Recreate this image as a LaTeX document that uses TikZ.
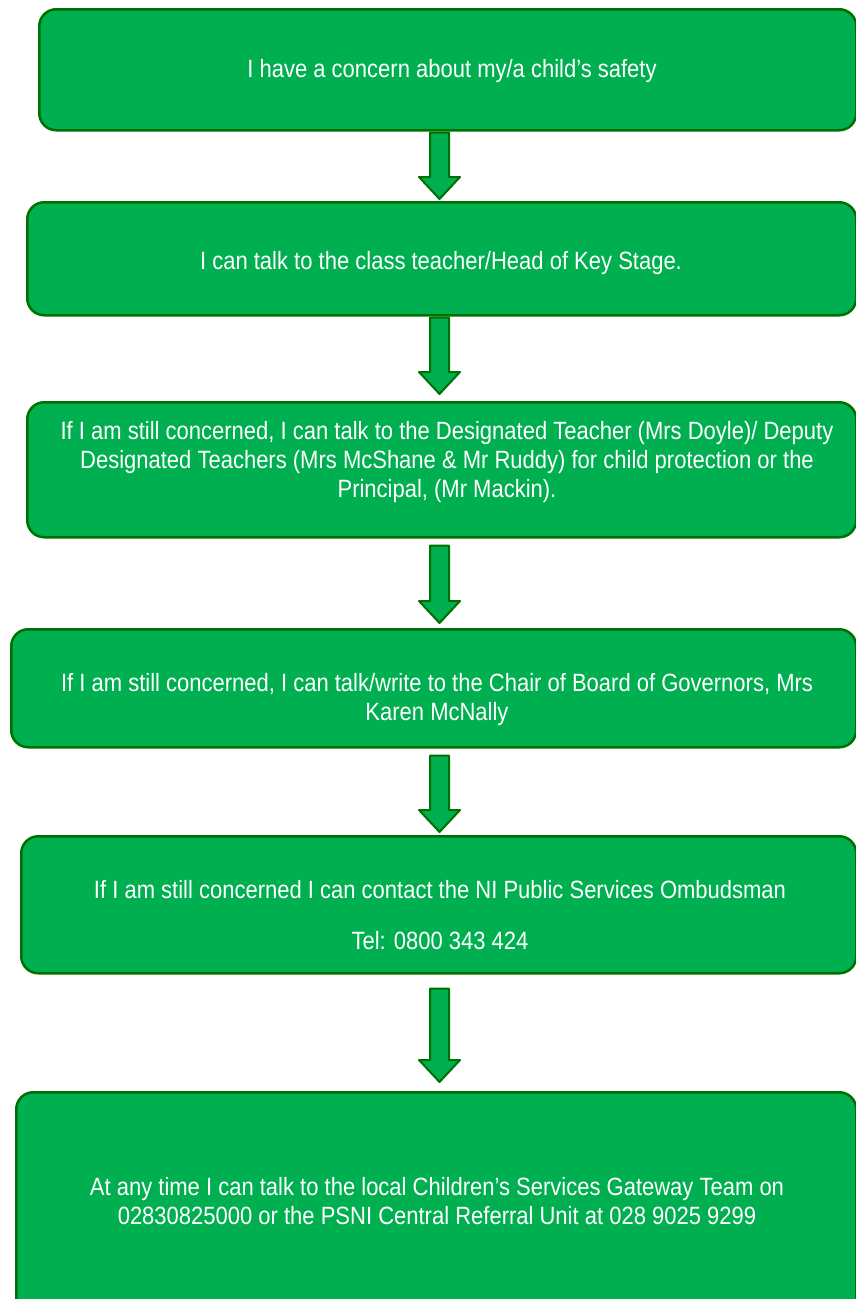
\documentclass[tikz,border=0pt]{standalone}
\usepackage{fontspec}
\setmainfont{Liberation Sans}[FakeStretch=0.88]
\usetikzlibrary{calc}
\definecolor{boxgreen}{RGB}{0,176,80}
\definecolor{edgegreen}{RGB}{0,112,0}
\begin{document}
\begin{tikzpicture}[x=1pt,y=-1pt,line join=round,
    stepbox/.style={draw=edgegreen,fill=boxgreen,line width=2.5pt,rounded corners=17pt,
      rectangle,anchor=north west,inner sep=0pt},
    steptext/.style={text=white,align=center,inner sep=0pt,
      font=\fontsize{25}{29}\selectfont},
    blockarrow/.style={draw=edgegreen,fill=boxgreen,line width=2pt}]
  \useasboundingbox[fill=white] (0,0) rectangle (856,1299);
  % boxes
  \node[stepbox,minimum width=817pt,minimum height=121pt] (b1) at (38,8) {};
  \node[stepbox,minimum width=829pt,minimum height=113pt] (b2) at (26,201) {};
  \node[stepbox,minimum width=829pt,minimum height=135pt] (b3) at (26,401) {};
  \node[stepbox,minimum width=845pt,minimum height=118pt] (b4) at (10,628) {};
  \node[stepbox,minimum width=835pt,minimum height=137pt] (b5) at (20,835) {};
  \node[stepbox,minimum width=840pt,minimum height=229pt] (b6) at (15,1091) {};
  % texts
  \node[steptext] (t1) at (452,71) {I have a concern about my/a child’s safety};
  \node[steptext] (t2) at (441,263) {I can talk to the class teacher/Head of Key Stage.};
  \node[steptext] (t3) at (447,462) {If I am still concerned, I can talk to the Designated Teacher (Mrs Doyle)/ Deputy\\
    Designated Teachers (Mrs McShane \& Mr Ruddy) for child protection or the\\
    Principal, (Mr Mackin).};
  \node[steptext] (t4) at (437,700) {If I am still concerned, I can talk/write to the Chair of Board of Governors, Mrs\\
    Karen McNally};
  \node[steptext] (t5) at (440,915) {If I am still concerned I can contact the NI Public Services Ombudsman\\[22pt]
    Tel: 0800 343 424};
  \node[steptext] (t6) at (437,1201) {At any time I can talk to the local Children’s Services Gateway Team on\\
    02830825000 or the PSNI Central Referral Unit at 028 9025 9299};
  % arrows
  \coordinate (axis) at (439.5,0);
  \foreach \from/\to/\gapa/\gapb in {b1/b2/1/2,b2/b3/1/7,b3/b4/7/5,b4/b5/7/3,b5/b6/14/9}{
    \filldraw[blockarrow] let \p1=($(\from.south -| axis)+(0,\gapa)$),
        \p2=($(\to.north -| axis)+(0,-\gapb)$) in
      (\x1-9.5pt,\y1) -- (\x1+9.5pt,\y1) -- (\x1+9.5pt,\y2+22pt) -- (\x1+20.5pt,\y2+22pt)
      -- (\x1,\y2) -- (\x1-20.5pt,\y2+22pt) -- (\x1-9.5pt,\y2+22pt) -- cycle;}
\end{tikzpicture}
\end{document}
